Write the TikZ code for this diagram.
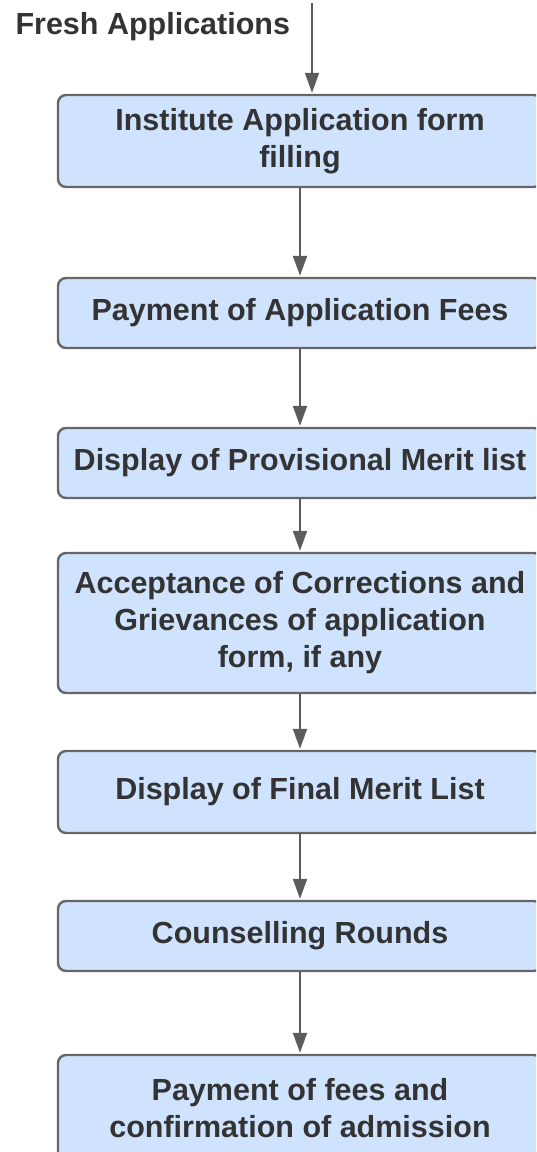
\documentclass[tikz,border=0pt]{standalone}
\usepackage{fontspec}
\setmainfont{Liberation Sans}
\usetikzlibrary{arrows.meta}

\definecolor{boxfill}{HTML}{CFE3FF}
\definecolor{boxline}{HTML}{666666}
\definecolor{arrowline}{HTML}{5C5C5C}
\definecolor{labeltext}{HTML}{333333}

\tikzset{
  stepbox/.style={draw=boxline, line width=2.4pt, fill=boxfill, rounded corners=8pt,
    minimum width=484pt, align=center, text=labeltext,
    font=\bfseries\fontsize{30.5}{37}\selectfont},
  flowarrow/.style={draw=arrowline, line width=2pt,
    -{Triangle[length=20pt,width=14pt]}, shorten >=1pt}
}

\begin{document}
\begin{tikzpicture}[x=1pt, y=-1pt]

\useasboundingbox (0,0) rectangle (536,1152);
\clip (0,0) rectangle (536,1152);

%------------------ START ------------------%
\node[anchor=base west, text=labeltext, font=\bfseries\fontsize{30.5}{37}\selectfont]
  (fresh) at (12,34) {Fresh Applications};
\coordinate (freshtop) at (312,3);

%------------------ STEPS ------------------%
\node[stepbox, minimum height=92pt]  (form)      at (300,141)  {Institute Application form\\filling};
\node[stepbox, minimum height=70pt]  (appfee)    at (300,313)  {Payment of Application Fees};
\node[stepbox, minimum height=70pt]  (provlist)  at (300,463)  {Display of Provisional Merit list};
\node[stepbox, minimum height=140pt] (grievance) at (300,623)  {Acceptance of Corrections and\\Grievances of application\\form, if any};
\node[stepbox, minimum height=82pt]  (finallist) at (300,792)  {Display of Final Merit List};
\node[stepbox, minimum height=70pt]  (counsel)   at (300,936)  {Counselling Rounds};
\node[stepbox, minimum height=106pt] (admission) at (300,1108) {Payment of fees and\\confirmation of admission};

%------------------ ARROWS ------------------%
\draw[flowarrow] (freshtop) -- (form.north -| freshtop);
\draw[flowarrow] (form) -- (appfee);
\draw[flowarrow] (appfee) -- (provlist);
\draw[flowarrow] (provlist) -- (grievance);
\draw[flowarrow] (grievance) -- (finallist);
\draw[flowarrow] (finallist) -- (counsel);
\draw[flowarrow] (counsel) -- (admission);

\end{tikzpicture}
\end{document}
